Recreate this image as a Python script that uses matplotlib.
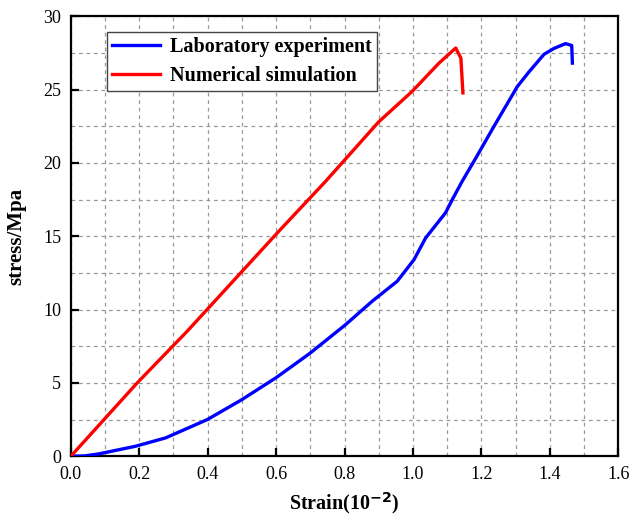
import matplotlib
matplotlib.use("Agg")
import matplotlib.pyplot as plt
from matplotlib.ticker import MultipleLocator

lab_strain = [0.0, 0.04, 0.082, 0.189, 0.277, 0.399, 0.5, 0.599, 0.667, 0.70, 0.803, 0.881, 0.954,
              1.003, 1.037, 1.095, 1.115, 1.144, 1.183, 1.237, 1.305, 1.339, 1.383, 1.412,
              1.446, 1.464, 1.466]
lab_stress = [0.0, 0.02, 0.16, 0.68, 1.25, 2.5, 3.86, 5.34, 6.48, 7.04, 8.97, 10.57, 11.93,
              13.4, 14.88, 16.59, 17.5, 18.75, 20.3, 22.5, 25.2, 26.2, 27.4, 27.8,
              28.13, 28.0, 26.8]

num_strain = [0.0, 0.194, 0.34, 0.608, 0.745, 0.90, 0.998, 1.076, 1.125, 1.14, 1.146]
num_stress = [0.0, 5.0, 8.52, 15.34, 18.75, 22.8, 24.88, 26.8, 27.83, 27.15, 24.77]

fig = plt.figure(figsize=(6.44, 5.22), dpi=100)
ax = fig.add_axes([0.110, 0.126, 0.850, 0.843])

ax.plot(lab_strain, lab_stress, color="#0000ff", lw=2.4, label="Laboratory experiment", zorder=3)
ax.plot(num_strain, num_stress, color="#ff0000", lw=2.4, label="Numerical simulation", zorder=3)

ax.set_xlim(0, 1.6)
ax.set_ylim(0, 30)
ax.xaxis.set_major_locator(MultipleLocator(0.2))
ax.xaxis.set_minor_locator(MultipleLocator(0.1))
ax.yaxis.set_major_locator(MultipleLocator(5))
ax.yaxis.set_minor_locator(MultipleLocator(2.5))
ax.grid(True, which="both", linestyle=(0, (3, 3)), color="#999999", lw=0.9)
ax.tick_params(which="major", direction="in", length=6, width=1.6, labelsize=13, pad=7)
ax.tick_params(which="minor", length=0)
ax.xaxis.set_major_formatter(matplotlib.ticker.FuncFormatter(lambda v, p: f"{v:.1f}"))
for lbl in ax.get_xticklabels() + ax.get_yticklabels():
    lbl.set_fontfamily("Liberation Serif")
for s in ax.spines.values():
    s.set_linewidth(1.6)

ax.set_xlabel("Strain(10$^{\\mathbf{-2}}$)", fontsize=14.5, fontweight="bold",
              fontfamily="Liberation Serif", labelpad=5)
ax.set_ylabel("stress/Mpa", fontsize=15, fontweight="bold",
              fontfamily="Liberation Serif", labelpad=12)

leg = ax.legend(loc="upper left", bbox_to_anchor=(0.066, 0.964), borderaxespad=0,
                fancybox=False, edgecolor="#444444", framealpha=1,
                prop={"family": "Liberation Serif", "weight": "bold", "size": 14.5},
                handlelength=2.4, handletextpad=0.5, borderpad=0.25, labelspacing=0.45)
leg.get_frame().set_linewidth(1.0)

fig.savefig("out.png", dpi=100)
